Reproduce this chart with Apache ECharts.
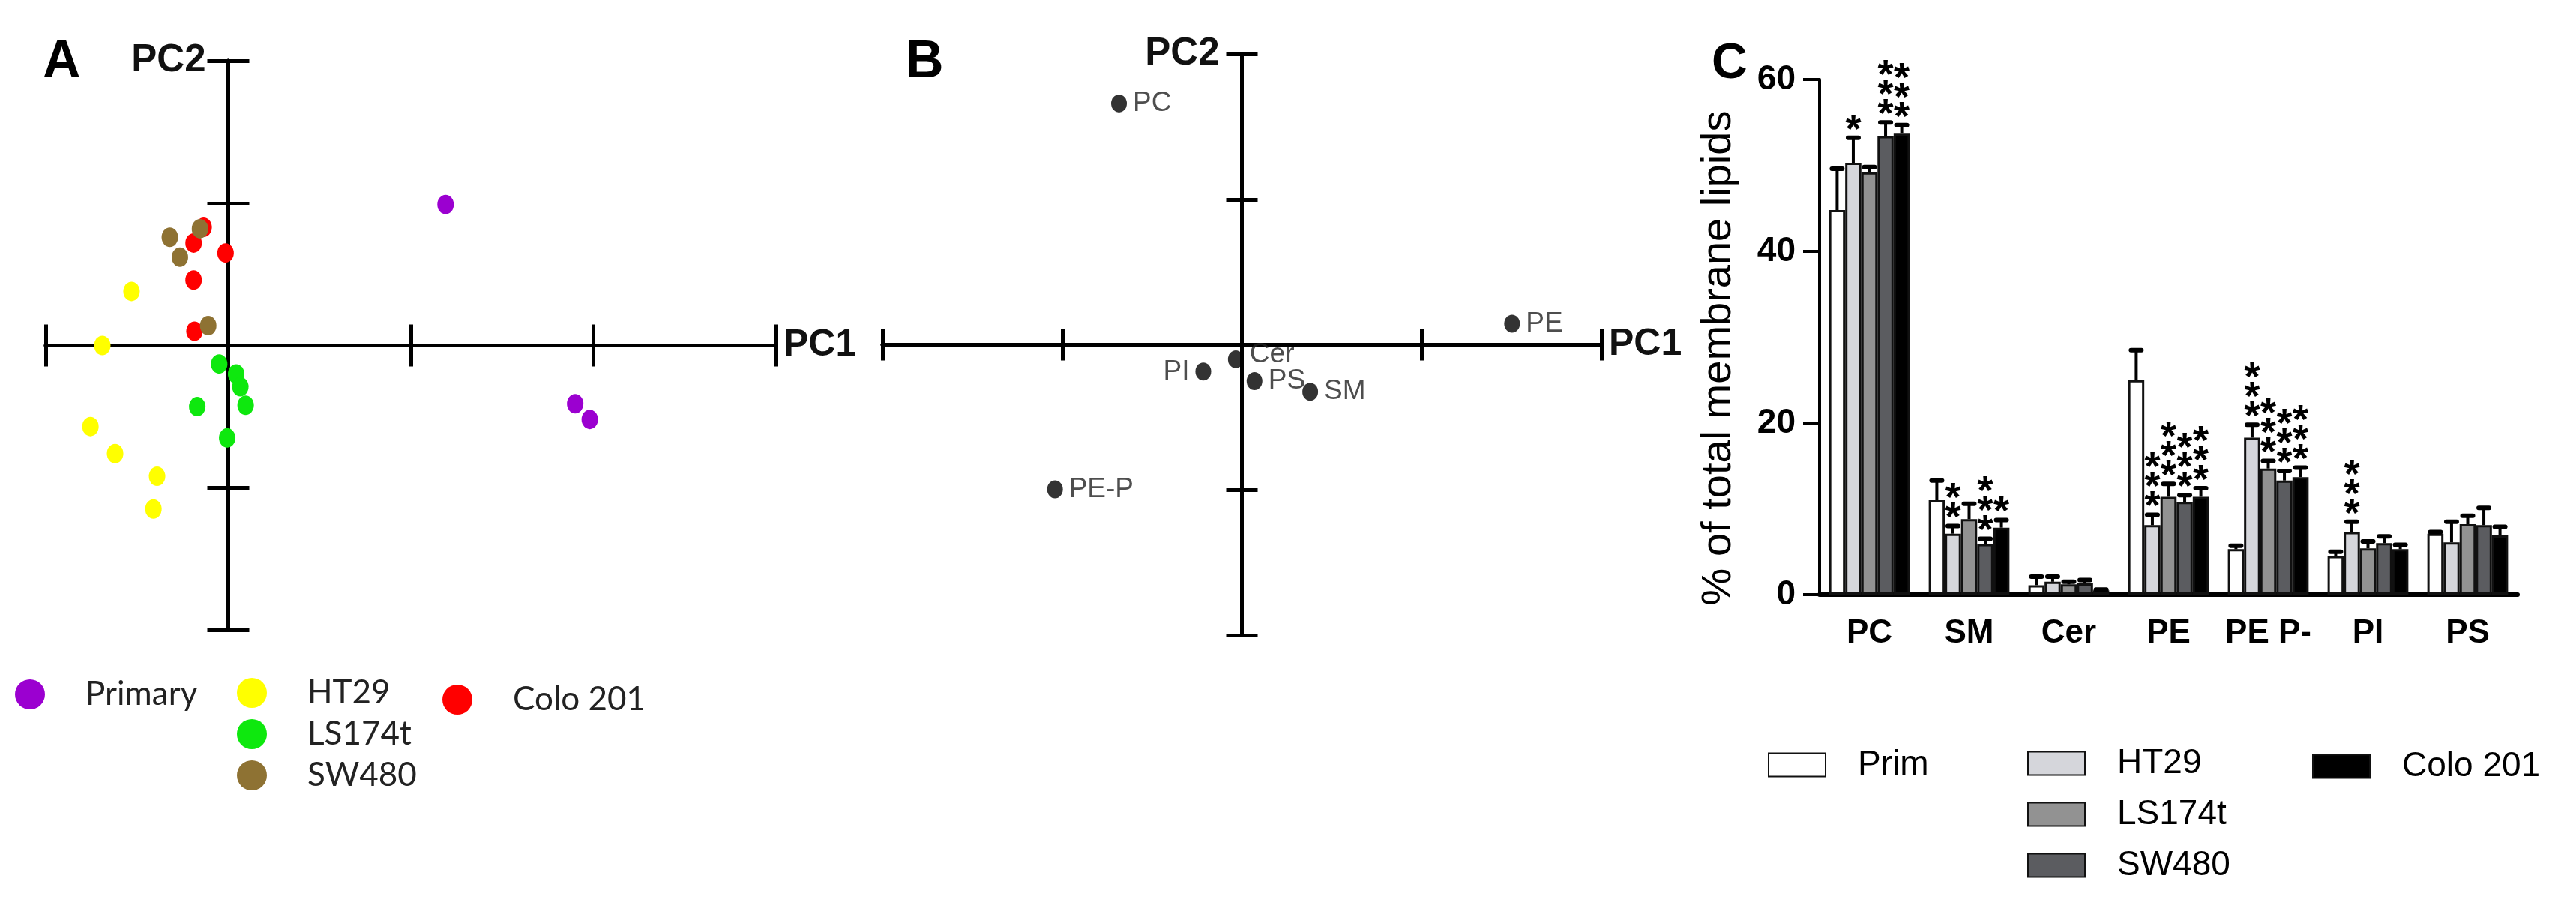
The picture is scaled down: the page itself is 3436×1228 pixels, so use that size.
<!DOCTYPE html>
<html>
<head>
<meta charset="utf-8">
<script src="https://cdn.jsdelivr.net/npm/echarts@6/dist/echarts.min.js"></script>
<style>
html,body{margin:0;padding:0;background:#fff;}
#main{width:3436px;height:1228px;}
</style>
</head>
<body>
<div id="main"></div>
<script>
// ---------- Panel A: PCA scores ----------
const primaryX = [1.19, 1.90, 1.98];
const primaryY = [0.99, -0.41, -0.52];
const ht29X = [-0.53, -0.69, -0.755, -0.62, -0.39, -0.41];
const ht29Y = [0.38, 0.0, -0.57, -0.76, -0.92, -1.15];
const ls174tX = [-0.05, 0.043, 0.066, 0.095, -0.17, -0.006];
const ls174tY = [-0.13, -0.20, -0.29, -0.42, -0.43, -0.65];
const sw480X = [-0.32, -0.155, -0.265, -0.11];
const sw480Y = [0.76, 0.82, 0.62, 0.14];
const colo201X = [-0.135, -0.19, -0.015, -0.19, -0.185];
const colo201Y = [0.83, 0.72, 0.65, 0.46, 0.10];
const groupNamesA = ['Primary', 'HT29', 'LS174t', 'SW480', 'Colo 201'];

// ---------- Panel B: PCA loadings ----------
const lipidNamesB = ['PC', 'PE', 'Cer', 'PI', 'PS', 'SM', 'PE-P'];
const loadingX = [-0.684, 1.503, -0.034, -0.215, 0.07, 0.38, -1.04];
const loadingY = [1.66, 0.145, -0.10, -0.185, -0.25, -0.324, -0.996];

// ---------- Panel C: lipid composition ----------
const lipidCats = ['PC', 'SM', 'Cer', 'PE', 'PE P-', 'PI', 'PS'];
const cellLines = ['Prim', 'HT29', 'LS174t', 'SW480', 'Colo 201'];
const primMean = [44.8, 11.0, 1.1, 25.0, 5.3, 4.5, 7.1];
const primErr = [4.8, 2.3, 1.0, 3.5, 0.4, 0.5, 0.2];
const ht29Mean = [50.3, 7.1, 1.5, 8.1, 18.3, 7.3, 6.1];
const ht29Err = [2.9, 0.9, 0.6, 1.2, 1.5, 1.2, 2.4];
const ls174tMean = [49.2, 8.8, 1.2, 11.4, 14.7, 5.4, 8.2];
const ls174tErr = [0.6, 1.8, 0.3, 1.5, 0.9, 0.8, 1.0];
const sw480Mean = [53.4, 5.9, 1.3, 10.8, 13.3, 6.0, 8.1];
const sw480Err = [1.6, 0.6, 0.4, 0.8, 1.1, 0.8, 2.0];
const colo201Mean = [53.7, 7.8, 0.5, 11.4, 13.7, 5.3, 6.9];
const colo201Err = [1.0, 0.9, 0.1, 1.0, 1.1, 0.5, 1.0];
// number of significance asterisks above each bar
const primStars = [0, 0, 0, 0, 0, 0, 0];
const ht29Stars = [1, 2, 0, 3, 3, 3, 0];
const ls174tStars = [0, 0, 0, 3, 3, 0, 0];
const sw480Stars = [3, 3, 0, 3, 3, 0, 0];
const colo201Stars = [3, 1, 0, 3, 3, 0, 0];
const yTicksC = [0, 20, 40, 60];

// ---------- build ----------
const zip = (xs, ys) => xs.map((x, i) => [x, ys[i]]);
const scatterA = [
  {name: 'Primary', data: zip(primaryX, primaryY), color: '#9b00d0'},
  {name: 'HT29', data: zip(ht29X, ht29Y), color: '#ffff00'},
  {name: 'LS174t', data: zip(ls174tX, ls174tY), color: '#0ee80e'},
  {name: 'Colo 201', data: zip(colo201X, colo201Y), color: '#ff0000'},
  {name: 'SW480', data: zip(sw480X, sw480Y), color: '#8e7233'}
];
const ellipse = 'path://M0,-1A1,1,0,1,1,0,1A1,1,0,1,1,0,-1Z';

const barColors = ['#ffffff', '#d5d6db', '#929292', '#5b5c60', '#000000'];
const means = [primMean, ht29Mean, ls174tMean, sw480Mean, colo201Mean];
const errs = [primErr, ht29Err, ls174tErr, sw480Err, colo201Err];
const stars = [primStars, ht29Stars, ls174tStars, sw480Stars, colo201Stars];
const CAT_GAP = 0.19;
const errData = [];
for (let s = 0; s < cellLines.length; s++) {
  for (let c = 0; c < lipidCats.length; c++) {
    errData.push([c, s, means[s][c], errs[s][c], stars[s][c]]);
  }
}

const F = '"Liberation Sans", Arial, sans-serif';
const pcaAxisCommon = (min, max, tickLen, inside) => ({
  type: 'value', min: min, max: max, interval: 1,
  axisLine: {show: true, onZero: true, lineStyle: {color: '#000', width: 5}},
  axisTick: {show: true, inside: inside, length: tickLen, lineStyle: {color: '#000', width: 5}},
  axisLabel: {show: false}, splitLine: {show: false}
});

function pcaAxes(gridIndex, xmin, xmax, tickLen) {
  const xa0 = Object.assign(pcaAxisCommon(xmin, xmax, tickLen, false), {
    gridIndex: gridIndex, position: 'bottom', name: 'PC1', nameLocation: 'end', nameGap: 10,
    nameTextStyle: {fontFamily: F, fontWeight: 'bold', fontSize: 50, color: '#111', verticalAlign: 'middle'}
  });
  const xa1 = Object.assign(pcaAxisCommon(xmin, xmax, tickLen, false), {gridIndex: gridIndex, position: 'top'});
  const ya0 = Object.assign(pcaAxisCommon(-2, 2, tickLen, false), {
    gridIndex: gridIndex, position: 'left', name: 'PC2', nameLocation: 'end', nameGap: 0,
    nameTextStyle: {fontFamily: F, fontWeight: 'bold', fontSize: 51, color: '#111', align: 'right', verticalAlign: 'middle', padding: [0, 30, 0, 0]}
  });
  const ya1 = Object.assign(pcaAxisCommon(-2, 2, tickLen, false), {gridIndex: gridIndex, position: 'right'});
  return {x: [xa0, xa1], y: [ya0, ya1]};
}
const axA = pcaAxes(0, -1, 3, 28);
const axB = pcaAxes(1, -2, 2, 21);

const series = [];
scatterA.forEach(g => {
  series.push({
    type: 'scatter', name: g.name, xAxisIndex: 0, yAxisIndex: 0,
    data: g.data, symbol: ellipse, symbolSize: [22, 26],
    itemStyle: {color: g.color, opacity: 1}, z: 5
  });
});
series.push({
  type: 'scatter', name: 'loadings', xAxisIndex: 2, yAxisIndex: 2,
  symbol: ellipse, symbolSize: [21, 24], itemStyle: {color: '#000'},
  data: lipidNamesB.map((n, i) => ({
    name: n, value: [loadingX[i], loadingY[i]],
    label: {position: n === 'PI' ? 'left' : 'right', offset: n === 'Cer' ? [0, -6] : [0, 0]}
  })),
  label: {show: true, formatter: '{b}', distance: 8, fontFamily: F, fontSize: 37, color: '#222'},
  z: 5
});
cellLines.forEach((name, s) => {
  series.push({
    type: 'bar', name: 'C:' + name, xAxisIndex: 4, yAxisIndex: 4,
    data: means[s], barGap: '0%', barCategoryGap: (CAT_GAP * 100) + '%',
    itemStyle: {color: barColors[s], borderColor: '#111', borderWidth: 3},
    z: 3
  });
});
series.push({
  type: 'custom', name: 'errors', xAxisIndex: 4, yAxisIndex: 4,
  encode: {x: 0, y: 2}, data: errData, z: 6,
  renderItem: function (params, api) {
    const c = api.value(0), s = api.value(1), m = api.value(2), e = api.value(3), n = api.value(4);
    const band = api.size([1, 0])[0];
    const bw = band * (1 - CAT_GAP) / cellLines.length;
    const base = api.coord([c, m]);
    const top = api.coord([c, m + e]);
    const x = base[0] + (s - (cellLines.length - 1) / 2) * bw;
    const children = [
      {type: 'line', shape: {x1: x, y1: base[1], x2: x, y2: top[1]}, style: {stroke: '#000', lineWidth: 4}},
      {type: 'line', shape: {x1: x - 7, y1: top[1], x2: x + 7, y2: top[1]}, style: {stroke: '#000', lineWidth: 6, lineCap: 'round'}}
    ];
    for (let i = 0; i < n; i++) {
      children.push({type: 'text', style: {text: '*', x: x, y: top[1] - 9 - i * 26, align: 'center', verticalAlign: 'middle',
        font: 'bold 54px "Liberation Sans", Arial, sans-serif', fill: '#000'}});
    }
    return {type: 'group', children: children};
  }
});

const legendTextA = {fontFamily: 'Lato, "Open Sans", sans-serif', fontSize: 44, color: '#222', padding: [0, 0, 0, 49], lineHeight: 44};
const legendTextC = {fontFamily: F, fontSize: 46, color: '#000', padding: [0, 0, 0, 38], lineHeight: 46};
const stripC = n => n.slice(2);

const option = {
  backgroundColor: '#fff',
  animation: false,
  title: [
    {text: 'A', left: 52, top: 44, textStyle: {fontFamily: F, fontWeight: 'bold', fontSize: 70, color: '#000'}},
    {text: 'B', left: 1203, top: 44, textStyle: {fontFamily: F, fontWeight: 'bold', fontSize: 70, color: '#000'}},
    {text: 'C', left: 2278, top: 48, textStyle: {fontFamily: F, fontWeight: 'bold', fontSize: 66, color: '#000'}}
  ],
  grid: [
    {left: 61, right: 3436 - 1035, top: 81, bottom: 1228 - 840},
    {left: 1177, right: 3436 - 2136, top: 72, bottom: 1228 - 847},
    {left: 2427, right: 3436 - 3358, top: 106, bottom: 1228 - 793}
  ],
  xAxis: [
    axA.x[0], axA.x[1], axB.x[0], axB.x[1],
    {
      type: 'category', gridIndex: 2, data: lipidCats,
      axisLine: {lineStyle: {color: '#000', width: 6}},
      axisTick: {show: false},
      axisLabel: {fontFamily: F, fontWeight: 'bold', fontSize: 44, color: '#000', margin: 30, interval: 0}
    }
  ],
  yAxis: [
    axA.y[0], axA.y[1], axB.y[0], axB.y[1],
    {
      type: 'value', gridIndex: 2, min: yTicksC[0], max: yTicksC[yTicksC.length - 1], interval: yTicksC[1] - yTicksC[0],
      axisLine: {show: true, lineStyle: {color: '#000', width: 4}},
      axisTick: {show: true, length: 22, lineStyle: {color: '#000', width: 4}},
      axisLabel: {fontFamily: F, fontWeight: 'bold', fontSize: 46, color: '#000', margin: 32},
      splitLine: {show: false},
      name: '% of total membrane lipids', nameLocation: 'middle', nameRotate: 90, nameGap: 106,
      nameTextStyle: {fontFamily: F, fontSize: 56, color: '#000', padding: [0, 56, 0, 0]}
    }
  ],
  legend: [
    {data: ['Primary'], left: 15, top: 899, icon: 'circle', itemWidth: 40, itemHeight: 42, textStyle: legendTextA, selectedMode: false},
    {data: ['HT29', 'LS174t', 'SW480'], orient: 'vertical', left: 311, top: 897, icon: 'circle', itemWidth: 40, itemHeight: 42, itemGap: 11, textStyle: legendTextA, selectedMode: false},
    {data: ['Colo 201'], left: 585, top: 906, icon: 'circle', itemWidth: 40, itemHeight: 42, textStyle: legendTextA, selectedMode: false},
    {data: ['C:Prim'], left: 2353, top: 992, icon: 'rect', itemWidth: 76, itemHeight: 31, textStyle: legendTextC, formatter: stripC, selectedMode: false},
    {data: ['C:HT29', 'C:LS174t', 'C:SW480'], orient: 'vertical', left: 2699, top: 990, icon: 'rect', itemWidth: 76, itemHeight: 31, itemGap: 22, textStyle: legendTextC, formatter: stripC, selectedMode: false},
    {data: ['C:Colo 201'], left: 3079, top: 994, icon: 'rect', itemWidth: 76, itemHeight: 31, textStyle: legendTextC, formatter: stripC, selectedMode: false}
  ],
  series: series
};

const chart = echarts.init(document.getElementById('main'), null, {renderer: 'canvas'});
chart.setOption(option);
</script>
</body>
</html>
